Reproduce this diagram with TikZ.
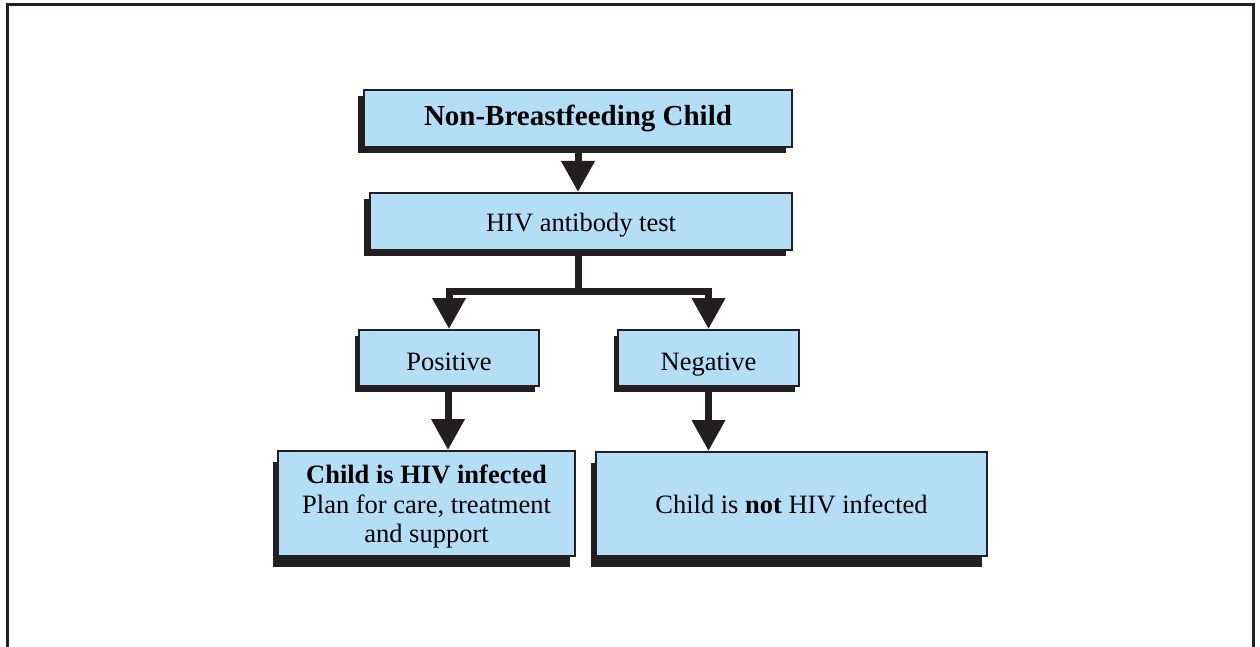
\documentclass[tikz,border=0pt]{standalone}
\usepackage{fontspec}
\setmainfont{Liberation Serif}
\usetikzlibrary{arrows.meta,shadows}
\definecolor{boxfill}{RGB}{180,222,246}
\definecolor{ink}{RGB}{35,31,32}
\begin{document}
\begin{tikzpicture}[x=1pt,y=-1pt,
  box/.style={draw=ink,line width=2pt,fill=boxfill,rectangle,inner sep=0pt,
    align=center,font=\fontsize{26.5}{29.5}\selectfont,text=black},
  txt/.style={inner sep=0pt,align=center,font=\fontsize{26.5}{29.5}\selectfont,text=black},
  shadowA/.style={drop shadow={shadow xshift=-6pt,shadow yshift=-6pt,fill=ink,opacity=1}},
  shadowB/.style={drop shadow={shadow xshift=-4pt,shadow yshift=-6pt,fill=ink,opacity=1}},
  shadowC/.style={drop shadow={shadow xshift=-5pt,shadow yshift=-11pt,fill=ink,opacity=1}},
  conn/.style={draw=ink,line width=7pt},
  arr/.style={conn,-{Triangle[width=32pt,length=31pt]}}]
\useasboundingbox (0,0) rectangle (1260,647);
\fill[white] (0,0) rectangle (1260,647);
\draw[ink,line width=3pt] (7,647) -- (7,5) -- (1253,5) -- (1253,647);

\node[box,shadowA,minimum width=428pt,minimum height=57pt,font=\fontsize{29}{30}\selectfont,
  text height=14.5pt,text depth=0pt] (top) at (578,118.5) {\textbf{Non-Breastfeeding Child}};
\node[box,shadowA,minimum width=422pt,minimum height=57pt,text height=19pt,text depth=0pt]
  (hiv) at (581,221.5) {HIV antibody test};
\node[box,shadowB,minimum width=180pt,minimum height=56pt,text height=25pt,text depth=0pt]
  (pos) at (449,358) {Positive};
\node[box,shadowB,minimum width=181pt,minimum height=56pt,text height=24pt,text depth=0pt]
  (neg) at (708.5,358) {Negative};
\node[box,shadowC,minimum width=297pt,minimum height=105pt] (inf) at (426.5,503.5) {};
\node[txt] (inftxt) at ([yshift=-3pt]inf.center) {\textbf{Child is HIV infected}\\Plan for care, treatment\\and support};
\node[box,shadowC,minimum width=391pt,minimum height=104pt,text height=18pt,text depth=0pt]
  (not) at (791.5,504) {Child is \textbf{not} HIV infected};

\coordinate (br) at (578,291);
\draw[arr] (top.south) -- (top.south |- hiv.north);
\draw[conn] (br |- hiv.south) -- (br);
\draw[arr] ([xshift=3.5pt]br) -| (pos.north);
\draw[arr] ([xshift=-3.5pt]br) -| (neg.north);
\draw[arr] ([xshift=-1pt]pos.south) -- ([xshift=-1pt]pos.south |- inf.north);
\draw[arr] (neg.south) -- (neg.south |- not.north);
\end{tikzpicture}
\end{document}
